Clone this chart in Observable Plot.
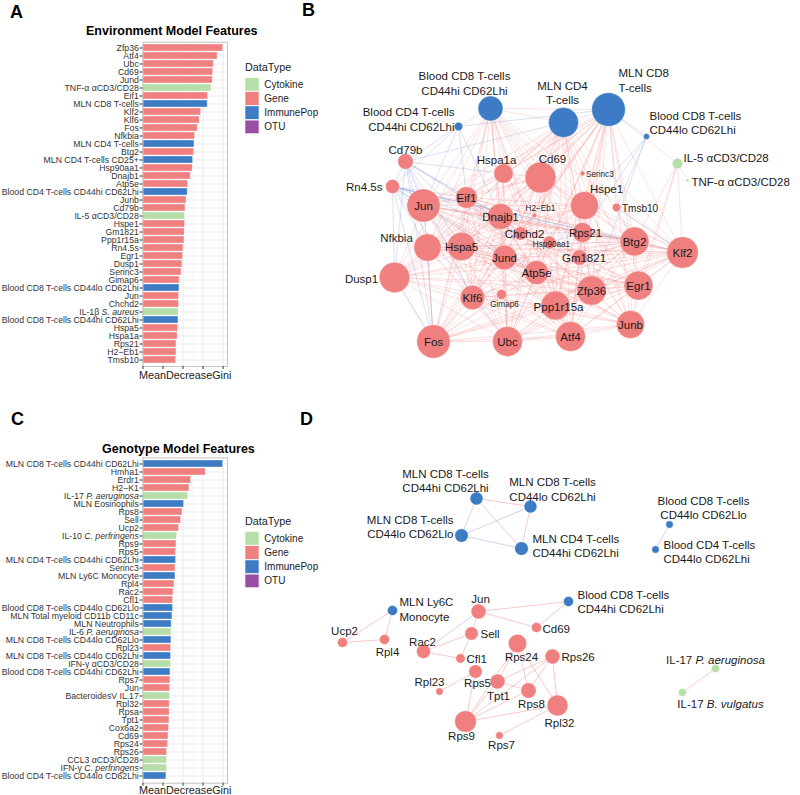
<!DOCTYPE html>
<html><head><meta charset="utf-8">
<script src="https://cdn.jsdelivr.net/npm/d3@7"></script>
<script src="https://cdn.jsdelivr.net/npm/@observablehq/plot@0.6"></script>
<style>
body{margin:0;background:#fff;}
#fig{position:relative;width:800px;height:795px;overflow:hidden;font-family:"Liberation Sans",Arial,sans-serif;}
</style></head><body><div id="fig"></div>
<script>
// ---------------- data ----------------
const typeNames = ["Cytokine","Gene","ImmunePop","OTU"];
const typeColors = ["#b6dea9","#f08080","#3d7cc4","#984ea3"];
const typeOf = {C:"Cytokine", G:"Gene", I:"ImmunePop", O:"OTU"};

const giniTicks = [0,1,2,3,4];
const giniMinorTicks = [0.5,1.5,2.5,3.5];
const giniDomain = [0,4.22];

const envFeatures = ["Zfp36","Atf4","Ubc","Cd69","Jund","TNF-α αCD3/CD28","Eif1","MLN CD8 T-cells",
 "Klf2","Klf6","Fos","Nfkbia","MLN CD4 T-cells","Btg2","MLN CD4 T-cells CD25+","Hsp90aa1",
 "Dnajb1","Atp5e","Blood CD4 T-cells CD44hi CD62Lhi","Junb","Cd79b","IL-5 αCD3/CD28","Hspe1","Gm1821",
 "Ppp1r15a","Rn4.5s","Egr1","Dusp1","Serinc3","Gimap6","Blood CD8 T-cells CD44lo CD62Lhi","Jun",
 "Chchd2","IL-1β S. aureus","Blood CD8 T-cells CD44hi CD62Lhi","Hspa5","Hspa1a","Rps21","H2−Eb1","Tmsb10"];
const envTypes = "GGGGGCGI" + "GGGGIGIG" + "GGIGGCGG" + "GGGGGGIG" + "GCIGGGGG";
const envGini = [4.00,3.72,3.53,3.50,3.48,3.42,3.25,3.23,
 2.90,2.83,2.73,2.60,2.57,2.55,2.50,2.48,
 2.38,2.25,2.23,2.17,2.12,2.10,2.10,2.08,
 2.07,2.02,2.00,1.97,1.92,1.83,1.82,1.80,
 1.80,1.78,1.77,1.75,1.73,1.67,1.67,1.65];

const genoFeatures = ["MLN CD8 T-cells CD44hi CD62Lhi","Hmha1","Erdr1","H2−K1","IL-17 P. aeruginosa","MLN Eosinophils","Rps8","Sell",
 "Ucp2","IL-10 C. perfringens","Rps9","Rps5","MLN CD4 T-cells CD44hi CD62Lhi","Serinc3","MLN Ly6C Monocyte","Rpl4",
 "Rac2","Cfl1","Blood CD8 T-cells CD44lo CD62Llo","MLN Total myeloid CD11b CD11c","MLN Neutrophils","IL-6 P. aeruginosa","MLN CD8 T-cells CD44lo CD62Llo","Rpl23",
 "MLN CD8 T-cells CD44lo CD62Lhi","IFN-γ αCD3/CD28","Blood CD8 T-cells CD44hi CD62Lhi","Rps7","Jun","BacteroidesV IL.17","Rpl32","Rpsa",
 "Tpt1","Cox6a2","Cd69","Rps24","Rps26","CCL3 αCD3/CD28","IFN-γ C. perfringens","Blood CD4 T-cells CD44lo CD62Lhi"];
const genoTypes = "IGGGCIGG" + "GCGGIGIG" + "GGIIICIG" + "ICIGGCGG" + "GGGGGCCI";
const genoGini = [4.00,3.13,2.40,2.32,2.25,2.05,1.97,1.90,
 1.80,1.70,1.67,1.65,1.65,1.62,1.62,1.57,
 1.52,1.50,1.50,1.47,1.43,1.42,1.42,1.40,
 1.40,1.40,1.37,1.37,1.35,1.35,1.33,1.33,
 1.32,1.30,1.27,1.25,1.20,1.20,1.20,1.17];

// network B: [id, type, size, layoutX, layoutY]
const bNodes = [
 ["BCD8hi","I",12.5,490,108],["MCD4","I",15,563,122],["MCD8","I",16.8,608,109],
 ["BCD4hi","I",4.2,458,126],["BCD8lo","I",3,646,136],["IL5","C",5.3,677,163],["TNF","C",1.4,687,180],
 ["Cd79b","G",7.8,405,161],["Rn4.5s","G",7,392,186],["Hspa1a","G",9.7,503,173],["Cd69","G",15.5,540,177],
 ["Serinc3","G",2.4,582,173],["Hspe1","G",14,584,205],["Eif1","G",10.8,466,197],["Jun","G",16.6,423,205],
 ["Dnajb1","G",13,500,216],["H2−Eb1","G",2.3,534,215],["Tmsb10","G",4.2,616,207],["Chchd2","G",6.7,520,233],
 ["Hsp90aa1","G",6.5,549,242],["Rps21","G",10,582,232],["Nfkbia","G",13.7,427,247],["Hspa5","G",14.2,461,246],
 ["Jund","G",12.3,504,257],["Gm1821","G",7.8,579,257],["Btg2","G",14.5,634,241],["Klf2","G",15.8,682,252],
 ["Dusp1","G",15.3,394,277],["Atp5e","G",12,536,272],["Zfp36","G",14.7,591,290],["Egr1","G",14.5,638,285],
 ["Klf6","G",12.2,472,297],["Gimap6","G",5,501,294],["Ppp1r15a","G",14.5,555,305],["Junb","G",14,630,324],
 ["Fos","G",16.7,433,341],["Ubc","G",15,507,341],["Atf4","G",15,570,336]
];
// labels B: [id, text, labelX, labelY, anchor, sizeClass]
const bLabels = [
 ["BCD8hi","Blood CD8 T-cells\nCD44hi CD62Lhi",464,82.5,"middle","n"],
 ["MCD4","MLN CD4\nT-cells",562,92,"middle","n"],
 ["MCD8","MLN CD8\nT-cells",618,79.5,"start","n"],
 ["BCD4hi","Blood CD4 T-cells\nCD44hi CD62Lhi",454,118.5,"end","n"],
 ["BCD8lo","Blood CD8 T-cells\nCD44lo CD62Lhi",649,122,"start","n"],
 ["IL5","IL-5 αCD3/CD28",683,157,"start","n"],
 ["TNF","TNF-α αCD3/CD28",691,180.5,"start","n"],
 ["Cd79b","Cd79b",405,149,"middle","n"],["Rn4.5s","Rn4.5s",382,186,"end","n"],
 ["Hspa1a","Hspa1a",496,159,"middle","n"],["Cd69","Cd69",552,158,"middle","n"],
 ["Serinc3","Serinc3",585.5,173,"start","s"],["Hspe1","Hspe1",606,188,"middle","n"],
 ["Eif1","Eif1",466,197,"middle","n"],["Jun","Jun",423,205,"middle","n"],["Dnajb1","Dnajb1",500,216,"middle","n"],
 ["H2−Eb1","H2−Eb1",540,207,"middle","s"],["Tmsb10","Tmsb10",621.5,207,"start","m"],
 ["Chchd2","Chchd2",524,233,"middle","n"],["Hsp90aa1","Hsp90aa1",551,243,"middle","s"],
 ["Rps21","Rps21",585,231.5,"middle","n"],["Nfkbia","Nfkbia",396,237,"middle","n"],
 ["Hspa5","Hspa5",461,246,"middle","n"],["Jund","Jund",504,257,"middle","n"],["Gm1821","Gm1821",583.5,257,"middle","n"],
 ["Btg2","Btg2",634,241,"middle","n"],["Klf2","Klf2",682,252,"middle","n"],["Dusp1","Dusp1",361,278,"middle","n"],
 ["Atp5e","Atp5e",536,272,"middle","n"],["Zfp36","Zfp36",591,290,"middle","n"],["Egr1","Egr1",638,285,"middle","n"],
 ["Klf6","Klf6",472,297,"middle","n"],["Gimap6","Gimap6",504,303,"middle","s"],["Ppp1r15a","Ppp1r15a",558,306,"middle","n"],
 ["Junb","Junb",630,324,"middle","n"],["Fos","Fos",433,341,"middle","n"],["Ubc","Ubc",507,341,"middle","n"],["Atf4","Atf4",570,336,"middle","n"]
];
const bPosEdges = [
 "MCD8: Hspa1a Cd69 Hspe1 Eif1 Jun Dnajb1 Chchd2 Rps21 Hspa5 Jund Gm1821 Btg2 Klf2 Atp5e Zfp36 Egr1 Klf6 Ppp1r15a Junb Fos Ubc Atf4 Nfkbia Dusp1 Tmsb10 IL5 BCD8hi MCD4 Serinc3",
 "MCD4: Hspa1a Cd69 Hspe1 Eif1 Jun Dnajb1 Rps21 Hspa5 Jund Btg2 Klf2 Atp5e Zfp36 Egr1 Klf6 Ppp1r15a Junb Fos Ubc Atf4 Nfkbia Dusp1 BCD8hi Gm1821 H2−Eb1",
 "BCD8hi: Hspa1a Cd69 Hspe1 Eif1 Jun Dnajb1 Hspa5 Jund Btg2 Atp5e Zfp36 Egr1 Klf6 Ppp1r15a Fos Ubc Atf4 Nfkbia Dusp1 Klf2 Junb BCD4hi",
 "Jun: Fos Eif1 Dnajb1 Hspa5 Jund Atp5e Zfp36 Egr1 Klf6 Ubc Atf4 Nfkbia Dusp1 Btg2 Klf2 Junb Cd69 Hspa1a Hspe1 Ppp1r15a Rps21 Gm1821",
 "Fos: Ubc Atf4 Junb Egr1 Zfp36 Klf6 Jund Atp5e Ppp1r15a Dusp1 Nfkbia Hspa5 Eif1 Dnajb1 Btg2 Klf2 Cd69 Hspe1 Gimap6",
 "Ubc: Atf4 Junb Egr1 Zfp36 Klf6 Jund Atp5e Ppp1r15a Dusp1 Nfkbia Hspa5 Eif1 Dnajb1 Btg2 Klf2 Cd69 Hspe1 Hspa1a",
 "Atf4: Junb Egr1 Zfp36 Klf6 Jund Atp5e Ppp1r15a Dusp1 Nfkbia Hspa5 Eif1 Dnajb1 Btg2 Klf2 Cd69 Hspe1 Hspa1a Gm1821",
 "Junb: Egr1 Zfp36 Klf6 Jund Atp5e Ppp1r15a Dusp1 Hspa5 Btg2 Klf2 Cd69 Hspe1 Dnajb1 IL5",
 "Egr1: Zfp36 Klf6 Jund Atp5e Ppp1r15a Dusp1 Nfkbia Btg2 Klf2 Cd69 Hspe1 Dnajb1 Eif1 Hspa5",
 "Zfp36: Klf6 Jund Atp5e Ppp1r15a Dusp1 Nfkbia Hspa5 Eif1 Dnajb1 Btg2 Klf2 Cd69 Hspe1 Hspa1a Rps21",
 "Klf2: Btg2 Hspe1 Cd69 Jund Atp5e Ppp1r15a Klf6 Dnajb1 Eif1 Hspa5 Nfkbia Dusp1 IL5 Tmsb10",
 "Btg2: Hspe1 Cd69 Jund Atp5e Ppp1r15a Klf6 Dnajb1 Eif1 Hspa5 Nfkbia Dusp1 Rps21 Gm1821",
 "Hspe1: Cd69 Jund Atp5e Dnajb1 Eif1 Hspa5 Hspa1a Nfkbia Dusp1 Klf6 Ppp1r15a Chchd2",
 "Cd69: Hspa1a Jund Atp5e Dnajb1 Eif1 Hspa5 Nfkbia Dusp1 Klf6 Ppp1r15a",
 "Dnajb1: Hspa1a Hspa5 Eif1 Jund Atp5e Klf6 Ppp1r15a Nfkbia Dusp1 Chchd2 Hsp90aa1",
 "Hspa5: Hspa1a Eif1 Jund Atp5e Klf6 Ppp1r15a Nfkbia Dusp1",
 "Eif1: Hspa1a Jund Atp5e Klf6 Ppp1r15a Nfkbia Dusp1",
 "Jund: Atp5e Klf6 Ppp1r15a Nfkbia Dusp1 Hspa1a",
 "Klf6: Ppp1r15a Nfkbia Dusp1 Atp5e",
 "Nfkbia: Dusp1 Ppp1r15a",
 "IL5: TNF Egr1 Btg2"
];
const bNegEdges = [
 "BCD4hi: Cd79b Rn4.5s Jun Eif1 Dnajb1 MCD8",
 "Cd79b: Jun Eif1 Dnajb1 Hspa5 Nfkbia Dusp1 Fos Klf6 Jund Hspa1a MCD4 Rn4.5s Chchd2",
 "Rn4.5s: Jun Eif1 Dnajb1 Hspa5 Nfkbia Dusp1 Fos Chchd2 Rps21 Btg2 Klf2 Ubc Jund",
 "BCD8lo: Hspe1 Rps21 Tmsb10 MCD8 Zfp36",
 "Rps21: Gm1821 Chchd2 Hsp90aa1 Btg2",
 "Tmsb10: Btg2 Klf2",
 "Fos: Nfkbia Dusp1"
];

// network D
const dNodes = [
 ["D_MCD8hihi","I",6.5,476,498],["D_MCD8lohi","I",6.4,530,506],["D_MCD8lolo","I",6.7,461,535],["D_MCD4hihi","I",6.8,521,548],
 ["D_BCD8lolo","I",3.7,669,524],["D_BCD4lohi","I",3.7,655,549],["D_Ly6C","I",5,392,610],["D_Jun","G",7.5,478,611],
 ["D_BCD8hihi","I",5,568,601],["D_Ucp2","G",5,342,642],["D_Rpl4","G",5,384,639],["D_Sell","G",6.7,471,633],
 ["D_Cd69","G",5,536,627],["D_Rac2","G",7,423,651],["D_Cfl1","G",4.7,460,658],["D_Rps24","G",9.2,517,643],
 ["D_Rps26","G",7.5,552,656],["D_Rps5","G",6.7,475,671],["D_Rpl23","G",3.7,439,691],["D_Tpt1","G",7.5,497,681],
 ["D_Rps8","G",7.7,528,690],["D_Rpl32","G",10.5,557,705],["D_Rps9","G",10.8,465,721],["D_Rps7","G",3.8,499,735],
 ["D_IL17Pa","C",4,715,668],["D_IL17Bv","C",4,682,692]
];
const dLabels = [
 ["D_MCD8hihi","MLN CD8 T-cells\nCD44hi CD62Lhi",445,480,"middle","n"],
 ["D_MCD8lohi","MLN CD8 T-cells\nCD44lo CD62Lhi",552,488.5,"middle","n"],
 ["D_MCD8lolo","MLN CD8 T-cells\nCD44lo CD62Llo",453,526,"end","n"],
 ["D_MCD4hihi","MLN CD4 T-cells\nCD44hi CD62Lhi",532,545,"start","n"],
 ["D_BCD8lolo","Blood CD8 T-cells\nCD44lo CD62Llo",703,507,"middle","n"],
 ["D_BCD4lohi","Blood CD4 T-cells\nCD44lo CD62Lhi",663,551,"start","n"],
 ["D_Ly6C","MLN Ly6C\nMonocyte",399,608.5,"start","n"],
 ["D_Jun","Jun",480,598,"middle","n"],
 ["D_BCD8hihi","Blood CD8 T-cells\nCD44hi CD62Lhi",577,601,"start","n"],
 ["D_Ucp2","Ucp2",344,630,"middle","n"],["D_Rpl4","Rpl4",387,651,"middle","n"],["D_Sell","Sell",480,633,"start","n"],
 ["D_Cd69","Cd69",542,628,"start","n"],["D_Rac2","Rac2",422,641,"middle","n"],["D_Cfl1","Cfl1",466,658,"start","n"],
 ["D_Rps24","Rps24",521,656,"middle","n"],["D_Rps26","Rps26",561,656,"start","n"],["D_Rps5","Rps5",477,682,"middle","n"],
 ["D_Rpl23","Rpl23",429,681,"middle","n"],["D_Tpt1","Tpt1",498,695,"middle","n"],["D_Rps8","Rps8",531,703,"middle","n"],
 ["D_Rpl32","Rpl32",559,722,"middle","n"],["D_Rps9","Rps9",461,735,"middle","n"],["D_Rps7","Rps7",501,744,"middle","n"],
 ["D_IL17Pa","IL-17 P. aeruginosa",715,659,"middle","n"],["D_IL17Bv","IL-17 B. vulgatus",720,703,"middle","n"]
];
const dPosEdges = [
 "D_MCD8hihi: D_MCD8lohi D_MCD4hihi", "D_MCD8lohi: D_MCD4hihi",
 "D_Ucp2: D_Ly6C D_Rpl4", "D_Rpl4: D_Ly6C",
 "D_Jun: D_BCD8hihi D_Cd69 D_Sell", "D_BCD8hihi: D_Cd69",
 "D_Rac2: D_Sell D_Cfl1", "D_Sell: D_Cfl1", "D_Rps5: D_Rpl23 D_Rps9",
 "D_Rps24: D_Tpt1 D_Rps9 D_Rps8 D_Rpl32", "D_Rps26: D_Tpt1 D_Rpl32 D_Rps9 D_Rps8",
 "D_Tpt1: D_Rps9 D_Rps8", "D_Rps8: D_Rps9", "D_Rpl32: D_Rps9 D_Rps7", "D_IL17Pa: D_IL17Bv"
];
const dNegEdges = [
 "D_MCD8hihi: D_MCD8lolo", "D_MCD8lolo: D_MCD8lohi D_MCD4hihi", "D_BCD8lolo: D_BCD4lohi", "D_Jun: D_Rac2"
];

// ---------------- rendering ----------------
const FONT = '"Liberation Sans", Arial, sans-serif';
const fig = document.getElementById("fig");
function place(node, left, top) {
  node.style.position = "absolute"; node.style.left = left + "px"; node.style.top = top + "px";
  fig.appendChild(node);
}

function barPanel(names, codes, vals, mTop, mBottom) {
  const rows = names.map((n, i) => ({feature: n, type: typeOf[codes[i]], gini: vals[i]}));
  return Plot.plot({
    width: 240, height: 395,
    marginLeft: 142.5, marginRight: 13, marginTop: mTop, marginBottom: mBottom,
    style: {fontFamily: FONT, fontSize: "8.7px", color: "#333", background: "transparent", overflow: "visible"},
    x: {domain: giniDomain},
    y: {domain: names, paddingInner: 0.1, paddingOuter: 0.15, align: 0.5},
    color: {domain: typeNames, range: typeColors},
    marks: [
      Plot.gridX({ticks: giniMinorTicks, stroke: "#f3f3f3", strokeOpacity: 1, strokeWidth: 0.6}),
      Plot.gridX({ticks: giniTicks, stroke: "#ebebeb", strokeOpacity: 1}),
      Plot.gridY({stroke: "#ebebeb", strokeOpacity: 1}),
      Plot.barX(rows, {x: "gini", y: "feature", fill: "type", stroke: "#fff", strokeOpacity: 0.5, strokeWidth: 0.7}),
      Plot.frame({stroke: "#c4c4c4"}),
      Plot.axisY({tickSize: 3, tickPadding: 1.2, stroke: "#333", label: null}),
      Plot.axisX({ticks: giniTicks, tickSize: 3, tickFormat: () => "", stroke: "#333", label: null})
    ]
  });
}
place(barPanel(envFeatures, envTypes, envGini, 41.7, 29), 0, 0);
place(barPanel(genoFeatures, genoTypes, genoGini, 57.3, 12.3), 0, 400);

// network
function toNodes(rows, panel) {
  return rows.map(r => ({id: r[0], type: typeOf[r[1]], size: r[2], x: r[3], y: r[4], panel}));
}
function toLabels(rows) {
  return rows.map(r => ({id: r[0], text: r[1], lx: r[2], ly: r[3], anchor: r[4], cls: r[5]}));
}
const nodes = [...toNodes(bNodes, "B"), ...toNodes(dNodes, "D")];
const byId = new Map(nodes.map(n => [n.id, n]));
function toEdges(lines, sign, panel) {
  const out = [];
  for (const line of lines) {
    const [src, rest] = line.split(":");
    for (const t of rest.trim().split(/\s+/)) {
      const a = byId.get(src.trim()), b = byId.get(t);
      if (a && b) out.push({x1: a.x, y1: a.y, x2: b.x, y2: b.y, sign, panel});
    }
  }
  return out;
}
const edgesBP = toEdges(bPosEdges, "pos", "B"), edgesBN = toEdges(bNegEdges, "neg", "B");
const edgesDP = toEdges(dPosEdges, "pos", "D"), edgesDN = toEdges(dNegEdges, "neg", "D");
const labels = [...toLabels(bLabels), ...toLabels(dLabels)];
const fontPx = {n: 11.5, m: 10, s: 8.2};

const net = Plot.plot({
  width: 510, height: 795, margin: 0,
  style: {fontFamily: FONT, background: "transparent", overflow: "visible"},
  x: {domain: [290, 800], range: [0, 510], axis: null},
  y: {domain: [0, 795], range: [0, 795], axis: null},
  r: {type: "linear", domain: [0, 20], range: [0, 20]},
  color: {domain: typeNames, range: typeColors},
  marks: [
    Plot.link(edgesBN, {x1: "x1", y1: "y1", x2: "x2", y2: "y2", stroke: "#7f93d8", strokeOpacity: 0.4, strokeWidth: 0.7}),
    Plot.link(edgesBP, {x1: "x1", y1: "y1", x2: "x2", y2: "y2", stroke: "#f07a7a", strokeOpacity: 0.32, strokeWidth: 0.7}),
    Plot.link(edgesDN, {x1: "x1", y1: "y1", x2: "x2", y2: "y2", stroke: "#b8c2ee", strokeOpacity: 0.9, strokeWidth: 0.8}),
    Plot.link(edgesDP, {x1: "x1", y1: "y1", x2: "x2", y2: "y2", stroke: "#f6b4b4", strokeOpacity: 0.9, strokeWidth: 0.8}),
    Plot.dot(nodes, {x: "x", y: "y", r: "size", fill: "type", stroke: "#fff", strokeWidth: 0.4}),
    ...["start", "middle", "end"].map(a => Plot.text(labels.filter(l => l.anchor === a), {
      x: "lx", y: "ly", text: "text", textAnchor: a, lineHeight: 1.25,
      fontSize: d => fontPx[d.cls], fill: "#1a1a1a"
    }))
  ]
});
place(net, 290, 0);

// annotations: panel letters, titles, axis titles, legends
const ov = d3.create("svg").attr("width", 800).attr("height", 795)
  .style("font-family", FONT).style("overflow", "visible");
const letters = [["A", 10, 17.5], ["B", 302, 15.5], ["C", 11, 425], ["D", 300, 425]];
ov.selectAll("text.letter").data(letters).join("text").attr("class", "letter")
  .attr("x", d => d[0] === d[0] ? d[1] : 0).attr("y", d => d[2]).text(d => d[0])
  .attr("font-size", 18).attr("font-weight", "bold").attr("fill", "#000");
const titles = [["Environment Model Features", 86, 34.5], ["Genotype Model Features", 102, 452.5]];
ov.selectAll("text.title").data(titles).join("text").attr("class", "title")
  .attr("x", d => d[1]).attr("y", d => d[2]).text(d => d[0])
  .attr("font-size", 12.5).attr("font-weight", "bold").attr("fill", "#000");
const axisTitles = [["MeanDecreaseGini", 139, 378.5], ["MeanDecreaseGini", 139, 794.3]];
ov.selectAll("text.axt").data(axisTitles).join("text").attr("class", "axt")
  .attr("x", d => d[1]).attr("y", d => d[2]).text(d => d[0])
  .attr("font-size", 10.8).attr("fill", "#1a1a1a");
for (const top of [67, 521]) {
  const g = ov.append("g");
  g.append("text").attr("x", 245).attr("y", top).attr("dy", "0.35em").attr("font-size", 10.8)
    .attr("fill", "#1a1a1a").text("DataType");
  typeNames.forEach((t, i) => {
    const cy = top + 17.3 + i * 14.2;
    g.append("rect").attr("x", 245).attr("y", cy - 6.8).attr("width", 14).attr("height", 13.6)
      .attr("fill", typeColors[i]).attr("stroke", "#fff").attr("stroke-width", 0.6);
    g.append("text").attr("x", 264.3).attr("y", cy).attr("dy", "0.35em").attr("font-size", 10)
      .attr("fill", "#1a1a1a").text(t);
  });
}
place(ov.node(), 0, 0);

// italic species names inside texts
function italicize(root) {
  root.querySelectorAll("text, tspan").forEach(el => {
    if (el.children.length) return;
    const t = el.textContent;
    const m = t.match(/^(.*\s)([A-Z]\. [a-z]+)$/);
    if (!m) return;
    el.textContent = m[1];
    const ts = document.createElementNS("http://www.w3.org/2000/svg", "tspan");
    ts.setAttribute("font-style", "italic");
    ts.textContent = m[2];
    el.appendChild(ts);
  });
}
italicize(fig);
</script></body></html>
